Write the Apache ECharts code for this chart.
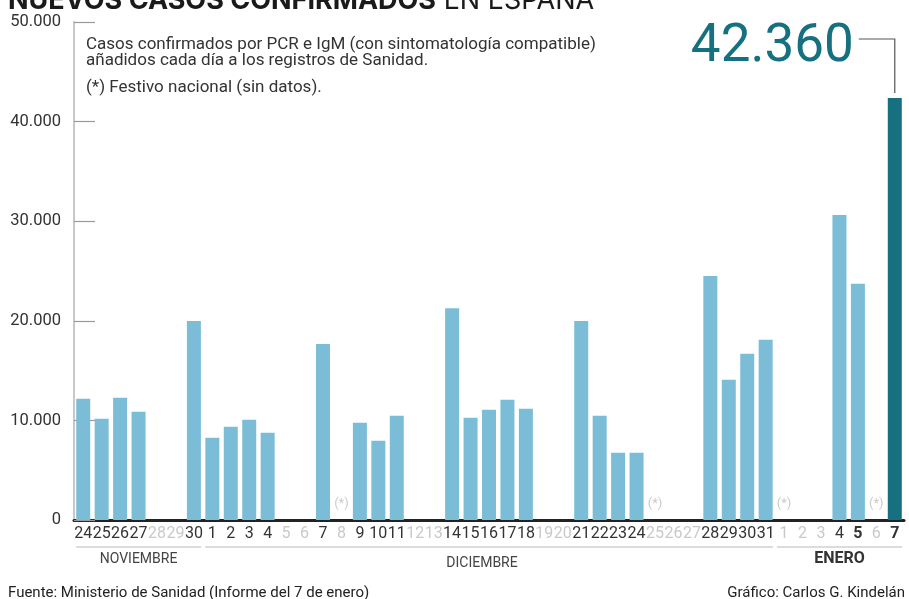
<!DOCTYPE html>
<html>
<head>
<meta charset="utf-8">
<script src="https://cdn.jsdelivr.net/npm/echarts@6/dist/echarts.min.js"></script>
<style>
    html, body { margin: 0; padding: 0; background: #fff; }
    #chart { width: 909px; height: 599px; }
</style>
</head>
<body>
<div id="chart"></div>
<script>
// días del eje (24 nov - 7 ene)
var dias = ['24', '25', '26', '27', '28', '29', '30',
    '1', '2', '3', '4', '5', '6', '7', '8', '9', '10', '11', '12', '13', '14', '15', '16',
    '17', '18', '19', '20', '21', '22', '23', '24', '25', '26', '27', '28', '29', '30', '31',
    '1', '2', '3', '4', '5', '6', '7'];
// casos notificados cada día (null = sin datos)
var casos = [12180, 10170, 12280, 10870, null, null, 19970,
    8260, 9370, 10070, 8770, null, null, 17660, null, 9770, 7960, 10470, null, null, 21270, 10270, 11070,
    12080, 11170, null, null, 19970, 10470, 6760, 6760, null, null, null, 24500, 14080, 16690, 18100,
    null, null, null, 30630, 23720, null, 42360];
// festivos nacionales (índices)
var festivos = [14, 31, 38, 43];
// días en negrita
var destacados = [42, 44];
// meses
var meses = ['NOVIEMBRE', 'DICIEMBRE', 'ENERO'];
var mesInicio = [0, 7, 38];
var mesFin = [6, 37, 44];
var mesNegrita = [false, false, true];

var ultimo = casos.length - 1;
var azul = '#7bbdd7';
var azulOscuro = '#16707f';

function miles(v) {
    return String(v).replace(/\B(?=(\d{3})+(?!\d))/g, '.');
}

var chart = echarts.init(document.getElementById('chart'));

var barData = [];
for (var i = 0; i < casos.length; i++) {
    barData.push({
        value: casos[i],
        itemStyle: { color: i === ultimo ? azulOscuro : azul }
    });
}

var option = {
    animation: false,
    textStyle: { fontFamily: 'Roboto' },
    grid: { left: 74, right: 5, top: 22, bottom: 79 },
    xAxis: {
        type: 'category',
        data: dias,
        boundaryGap: true,
        axisLine: { lineStyle: { color: '#222', width: 3 } },
        axisTick: { inside: true, length: 11, lineStyle: { color: '#aaa', width: 1 } },
        axisLabel: {
            interval: 0,
            margin: 6,
            formatter: function (value, index) {
                if (destacados.indexOf(index) >= 0) return '{b|' + value + '}';
                if (casos[index] === null) return '{g|' + value + '}';
                return '{d|' + value + '}';
            },
            rich: {
                d: { fontSize: 16, color: '#333', fontFamily: 'Roboto' },
                g: { fontSize: 16, color: '#c9c9c9', fontFamily: 'Roboto' },
                b: { fontSize: 16, color: '#333', fontWeight: 'bold', fontFamily: 'Roboto' }
            }
        }
    },
    yAxis: {
        type: 'value',
        min: 0,
        max: 50000,
        interval: 10000,
        axisLine: { show: true, lineStyle: { color: '#c8c8c8', width: 2 } },
        axisTick: { show: true, inside: true, length: 21, lineStyle: { color: '#999', width: 1.2 } },
        splitLine: { show: false },
        axisLabel: {
            margin: 13,
            fontSize: 16.5,
            color: '#333',
            formatter: function (v) { return miles(v); }
        }
    },
    series: [{
        type: 'bar',
        barWidth: 14,
        data: barData
    }, {
        // marca de festivo
        type: 'scatter',
        symbolSize: 1,
        itemStyle: { color: 'rgba(0,0,0,0)' },
        data: festivos.map(function (i) { return [i, 0]; }),
        label: {
            show: true,
            position: 'top',
            distance: 9,
            formatter: '(*)',
            fontSize: 13,
            color: '#bdbdbd'
        },
        z: 5
    }]
};
chart.setOption(option);

// elementos de texto y anotaciones
var cat = chart.convertToPixel({ xAxisIndex: 0 }, 1) - chart.convertToPixel({ xAxisIndex: 0 }, 0);
var graficos = [];

graficos.push({
    type: 'text', left: 8, top: -13,
    style: {
        text: '{b|NUEVOS CASOS CONFIRMADOS}{n| EN ESPAÑA}',
        rich: {
            b: { fontSize: 27, fontWeight: 'bold', fill: '#1a1a1a', fontFamily: 'Inter' },
            n: { fontSize: 27, fill: '#1a1a1a', fontFamily: 'Inter' }
        }
    }
});

var notas = [
    ['Casos confirmados por PCR e IgM (con sintomatología compatible)', 45],
    ['añadidos cada día a los registros de Sanidad.', 61],
    ['(*) Festivo nacional (sin datos).', 88]
];
notas.forEach(function (n) {
    graficos.push({
        type: 'text', x: 86, y: n[1],
        style: { text: n[0], fontSize: 17, fill: '#333', fontFamily: 'Roboto', verticalAlign: 'middle' }
    });
});

// meses bajo el eje
for (var m = 0; m < meses.length; m++) {
    var x0 = chart.convertToPixel({ xAxisIndex: 0 }, mesInicio[m]) - cat / 2 + 2;
    var x1 = chart.convertToPixel({ xAxisIndex: 0 }, mesFin[m]) + cat / 2 - 2;
    graficos.push({
        type: 'line',
        shape: { x1: x0, y1: 547, x2: x1, y2: 547 },
        style: { stroke: '#d0d0d0', lineWidth: 1.5 }
    });
    graficos.push({
        type: 'text', x: (x0 + x1) / 2 - (m === 1 ? 7 : 0), y: m === 1 ? 563 : 559,
        style: {
            text: meses[m], fontSize: mesNegrita[m] ? 16 : 14,
            fontWeight: mesNegrita[m] ? 'bold' : 'normal',
            fill: mesNegrita[m] ? '#333' : '#444',
            fontFamily: 'Roboto', align: 'center', verticalAlign: 'middle'
        }
    });
}

// cifra del último día
var tope = chart.convertToPixel({ xAxisIndex: 0, yAxisIndex: 0 }, [ultimo, casos[ultimo]]);
graficos.push({
    type: 'polyline',
    shape: { points: [[tope[0] - 36, 39], [tope[0], 39], [tope[0], tope[1] - 5]] },
    style: { stroke: '#555', lineWidth: 1.2, fill: null }
});
graficos.push({
    type: 'text', x: tope[0] - 41, y: 48,
    style: {
        text: miles(casos[ultimo]), fontSize: 53, fill: azulOscuro,
        fontFamily: 'Roboto', align: 'right', verticalAlign: 'middle'
    }
});

// pie
graficos.push({
    type: 'text', x: 8, y: 593,
    style: { text: 'Fuente: Ministerio de Sanidad (Informe del 7 de enero)', fontSize: 15, fill: '#222', fontFamily: 'Roboto', verticalAlign: 'middle' }
});
graficos.push({
    type: 'text', x: 905, y: 593,
    style: { text: 'Gráfico: Carlos G. Kindelán', fontSize: 15, fill: '#222', fontFamily: 'Roboto', align: 'right', verticalAlign: 'middle' }
});

chart.setOption({ graphic: graficos });
</script>
</body>
</html>
